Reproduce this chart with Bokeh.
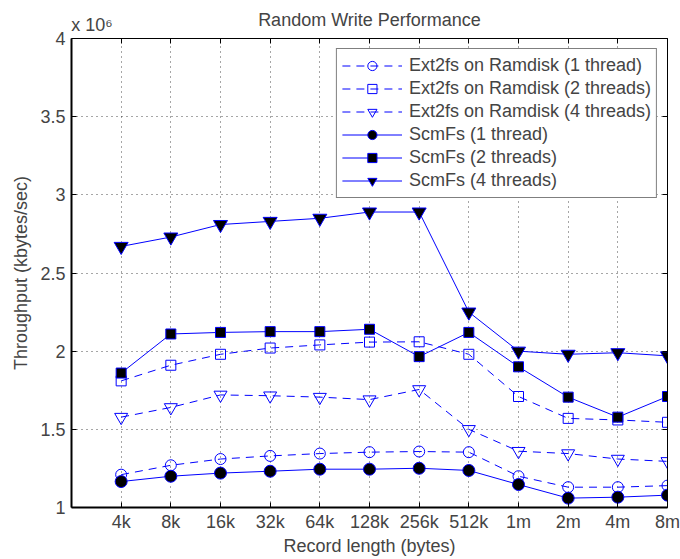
from bokeh.plotting import figure
from bokeh.models import Range1d, FixedTicker, LinearAxis, Legend, LegendItem, ColumnDataSource
from bokeh.embed import file_html
from bokeh.resources import INLINE

# ---- data (throughput in units of 10^6 kbytes/sec) ----
record_lengths = ["4k", "8k", "16k", "32k", "64k", "128k", "256k", "512k", "1m", "2m", "4m", "8m"]
ext2_1 = [1.21, 1.27, 1.31, 1.33, 1.345, 1.354, 1.358, 1.354, 1.20, 1.13, 1.13, 1.14]
ext2_2 = [1.81, 1.91, 1.98, 2.02, 2.04, 2.058, 2.06, 1.98, 1.71, 1.57, 1.56, 1.545]
ext2_4 = [1.578, 1.64, 1.72, 1.715, 1.706, 1.69, 1.755, 1.50, 1.36, 1.345, 1.31, 1.295]
scm_1 = [1.166, 1.20, 1.22, 1.232, 1.245, 1.245, 1.251, 1.237, 1.147, 1.06, 1.066, 1.079]
scm_2 = [1.86, 2.11, 2.12, 2.125, 2.125, 2.14, 1.965, 2.12, 1.90, 1.706, 1.578, 1.71]
scm_4 = [2.67, 2.73, 2.81, 2.83, 2.85, 2.89, 2.89, 2.25, 2.00, 1.98, 1.99, 1.97]
y_ticks = [1, 1.5, 2, 2.5, 3, 3.5, 4]
y_tick_labels = ["1", "1.5", "2", "2.5", "3", "3.5", "4"]
y_multiplier = "x 10\u2076"
chart_title = "Random Write Performance"
series_names = ["Ext2fs on Ramdisk (1 thread)", "Ext2fs on Ramdisk (2 threads)",
                "Ext2fs on Ramdisk (4 threads)", "ScmFs (1 thread)",
                "ScmFs (2 threads)", "ScmFs (4 threads)"]

FONT = "Liberation Sans"
BLUE = "#0000ff"

xpos = list(range(1, len(record_lengths) + 1))
src = ColumnDataSource(dict(x=xpos, e1=ext2_1, e2=ext2_2, e4=ext2_4, s1=scm_1, s2=scm_2, s4=scm_4))

p = figure(width=680, height=559, output_backend="svg", toolbar_location=None,
           x_range=Range1d(0, len(record_lengths)), y_range=Range1d(y_ticks[0], y_ticks[-1]),
           min_border_left=71, min_border_right=13, min_border_top=38, min_border_bottom=52)
p.outline_line_color = None
p.background_fill_color = "white"

# axes
xax = p.xaxis[0]
xax.ticker = FixedTicker(ticks=xpos)
xax.major_label_overrides = {x: lab for x, lab in zip(xpos, record_lengths)}
xax.axis_label = "Record length (bytes)"
yax = p.yaxis[0]
yax.ticker = FixedTicker(ticks=y_ticks)
yax.major_label_overrides = {t: lab for t, lab in zip(y_ticks, y_tick_labels)}
yax.axis_label = "Throughput (kbytes/sec)"
for ax in (xax, yax):
    ax.major_label_text_font = FONT
    ax.major_label_text_font_size = "18px"
    ax.axis_label_text_font = FONT
    ax.axis_label_text_font_size = "18px"
    ax.axis_label_text_font_style = "normal"
    ax.major_tick_in = 5
    ax.major_tick_out = 0
    ax.minor_tick_in = 0
    ax.minor_tick_out = 0
    ax.axis_line_width = 2
    ax.major_tick_line_width = 1
xax.major_label_standoff = 4
xax.axis_label_standoff = 1
yax.major_label_standoff = 6
yax.axis_label_standoff = 6

top = LinearAxis(ticker=FixedTicker(ticks=xpos), major_label_text_font_size="1px",
                 major_label_text_color=None, major_label_standoff=0,
                 major_tick_in=5, major_tick_out=0,
                 minor_tick_in=0, minor_tick_out=0, axis_line_width=1)
right = LinearAxis(ticker=FixedTicker(ticks=y_ticks), major_label_text_font_size="1px",
                   major_label_text_color=None, major_label_standoff=0,
                   major_tick_in=5, major_tick_out=0,
                   minor_tick_in=0, minor_tick_out=0, axis_line_width=1)
p.add_layout(top, "above")
p.add_layout(right, "right")

# "x 10^6" multiplier (tick label near the left edge) and the chart title (axis label,
# centred over the plot) carried by an extra top axis without line or ticks
mult_pos = 0.41  # label centre, just right of the y axis
mult = LinearAxis(ticker=FixedTicker(ticks=[mult_pos]), major_label_overrides={mult_pos: y_multiplier},
                  major_label_text_font=FONT, major_label_text_font_size="18px",
                  major_label_standoff=4,
                  axis_label=chart_title, axis_label_text_font=FONT,
                  axis_label_text_font_size="18px", axis_label_text_font_style="normal",
                  axis_label_standoff=-18,
                  major_tick_in=0, major_tick_out=0, minor_tick_in=0, minor_tick_out=0,
                  axis_line_color=None)
p.add_layout(mult, "above")

# grid
p.xgrid.ticker = FixedTicker(ticks=xpos)
p.ygrid.ticker = FixedTicker(ticks=y_ticks)
for g in (p.xgrid, p.ygrid):
    g.grid_line_color = "black"
    g.grid_line_dash = "1 4"
    g.grid_line_alpha = 0.7
    g.grid_line_width = 1

# series
specs = [
    ("e1", "circle", 11, None, "8 6"),
    ("e2", "square", 10, None, "8 6"),
    ("e4", "inverted_triangle", 13, None, "8 6"),
    ("s1", "circle", 12, "black", "solid"),
    ("s2", "square", 10, "black", "solid"),
    ("s4", "inverted_triangle", 14, "black", "solid"),
]
items = []
for name, (col, marker, size, fill, dash) in zip(series_names, specs):
    lr = p.line("x", col, source=src, line_color=BLUE, line_width=1, line_dash=dash)
    sr = p.scatter("x", col, source=src, marker=marker, size=size,
                   fill_color=fill, line_color=BLUE, line_width=1)
    items.append(LegendItem(label=name, renderers=[lr, sr]))

legend = Legend(items=items, location="top_right", margin=10, padding=5, spacing=0,
                glyph_width=60, glyph_height=23, label_height=23, label_standoff=7,
                label_text_font=FONT, label_text_font_size="18px",
                border_line_color="black", border_line_width=1,
                background_fill_color="white", background_fill_alpha=1)
p.add_layout(legend)

open("out.html", "w").write(file_html(p, INLINE))
